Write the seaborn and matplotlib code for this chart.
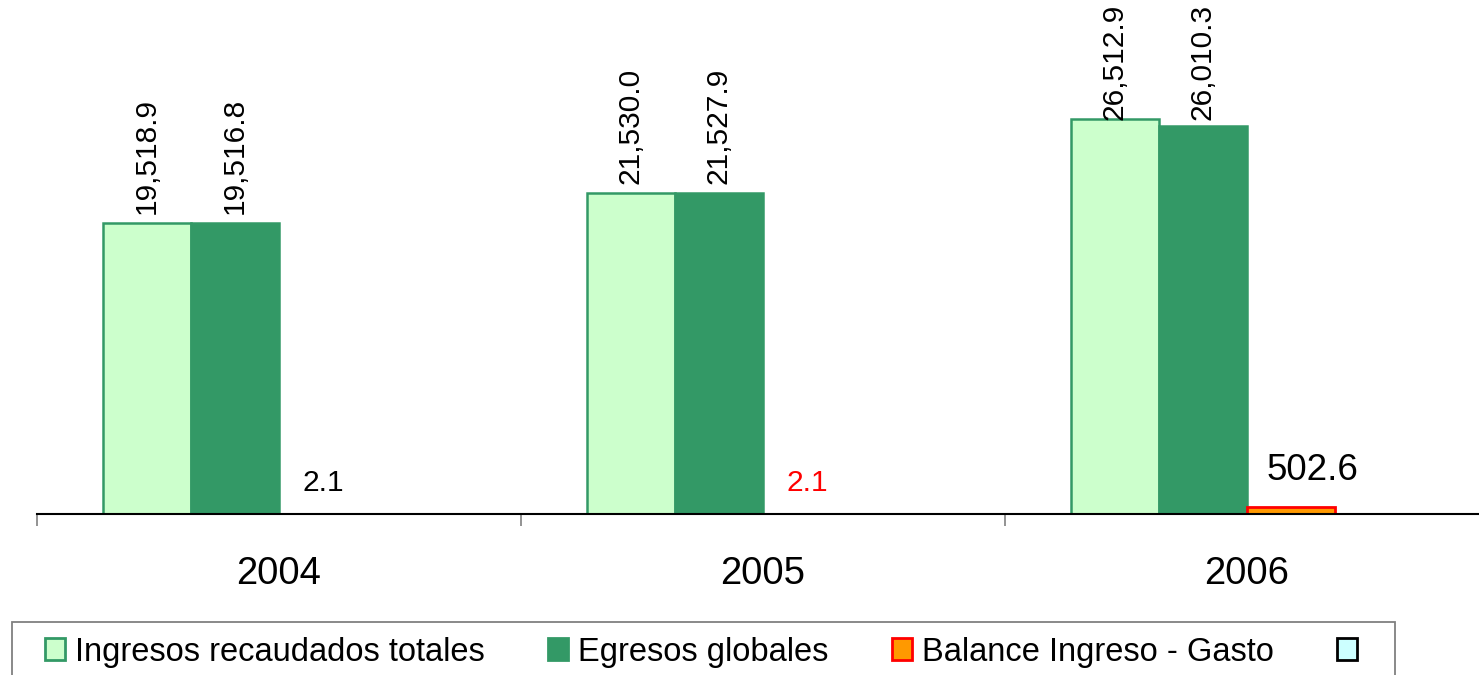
import matplotlib
matplotlib.use("Agg")
import matplotlib.pyplot as plt
from matplotlib.patches import Patch, Rectangle
import numpy as np
import pandas as pd
import seaborn as sns

# datos (millones)
anios = ["2004", "2005", "2006"]
series = ["Ingresos recaudados totales", "Egresos globales", "Balance Ingreso - Gasto", ""]
ingresos = [19518.9, 21530.0, 26512.9]
egresos = [19516.8, 21527.9, 26010.3]
balance = [2.1, 2.1, 502.6]
vacia = [0.0, 0.0, 0.0]

relleno = ["#CCFFCC", "#339966", "#FF9900", "#CCFFFF"]
borde = ["#339966", "#339966", "#FF0000", "#000000"]

df = pd.DataFrame({
    "anio": anios * 4,
    "serie": np.repeat(series, len(anios)),
    "valor": ingresos + egresos + balance + vacia,
})

sns.set_theme(style="white")
plt.rcParams["font.family"] = ["Liberation Sans", "DejaVu Sans"]
plt.rcParams["text.color"] = "black"

W, H = 1479, 675
fig = plt.figure(figsize=(W / 100, H / 100), dpi=100)
ax = fig.add_axes([37 / W, 161 / H, 1 - 37 / W, 514 / H])

sns.barplot(data=df, x="anio", y="valor", hue="serie", order=anios, hue_order=series,
            palette=relleno, saturation=1, width=0.728, errorbar=None, legend=False, ax=ax)

for i, cont in enumerate(ax.containers):
    for b in cont:
        if i == 3:
            b.set_edgecolor("none")
        else:
            b.set_edgecolor(borde[i])
            b.set_linewidth(1.8 if i < 2 else 2)

# ojo: set_xticks amplía los límites, así que primero los ticks
ax.set_xticks([-0.5, 0.5, 1.5, 2.5], minor=True)
ax.set_xlim(-0.5, 2.48)
ax.set_ylim(0, 34500)
ax.set_yticks([])
ax.set_xlabel("")
ax.set_ylabel("")
for s in ["left", "top", "right"]:
    ax.spines[s].set_visible(False)
ax.spines["bottom"].set_color("black")
ax.spines["bottom"].set_linewidth(1.5)
ax.tick_params(axis="x", which="major", bottom=False, length=0, labelsize=27.5, pad=30,
               labelcolor="black")
ax.tick_params(axis="x", which="minor", bottom=True, length=8.5, width=1.2,
               color="#808080", direction="out")

# etiquetas de valores
rotadas = []
for i, cont in enumerate(ax.containers[:3]):
    for j, b in enumerate(cont):
        x = b.get_x() + b.get_width() / 2
        h = b.get_height()
        if i < 2:
            a = ax.annotate(f"{h:,.1f}", (x, h), xytext=(0, 9), textcoords="offset pixels",
                            rotation=90, ha="center", va="bottom", fontsize=21.5, color="black")
            rotadas.append(a)
        elif h > 100:
            ax.annotate(f"{h:,.1f}", (x, h), xytext=(22, 19), textcoords="offset pixels",
                        ha="center", va="bottom", fontsize=26.5, color="black")
        else:
            ax.annotate(f"{h:,.1f}", (x, h), xytext=(0, 17), textcoords="offset pixels",
                        ha="center", va="bottom", fontsize=21.5,
                        color="red" if j == 1 else "black")

# las que no caben se bajan hasta el borde superior
fig.canvas.draw()
for a in rotadas:
    bb = a.get_window_extent()
    exceso = bb.y1 - (H - 4)
    if exceso > 0:
        a.xyann = (0, a.xyann[1] - exceso)

# leyenda con marco propio
fig.add_artist(Rectangle((12 / W, -0.01), (1395 - 12) / W, (H - 622) / H + 0.01,
                         transform=fig.transFigure, facecolor="white",
                         edgecolor="#808080", linewidth=1.3, zorder=1))
manijas = [Patch(facecolor=relleno[i], edgecolor=borde[i], linewidth=2) for i in range(4)]
fig.legend(manijas, series, ncol=4, loc="center left", bbox_to_anchor=(45 / W, (H - 652) / H),
           fontsize=23.5, frameon=False, handlelength=0.62, handleheight=0.68,
           handletextpad=0.31, columnspacing=1.93, borderpad=0, borderaxespad=0,
           labelcolor="black")

fig.savefig("out.png", dpi=100)
plt.close(fig)
